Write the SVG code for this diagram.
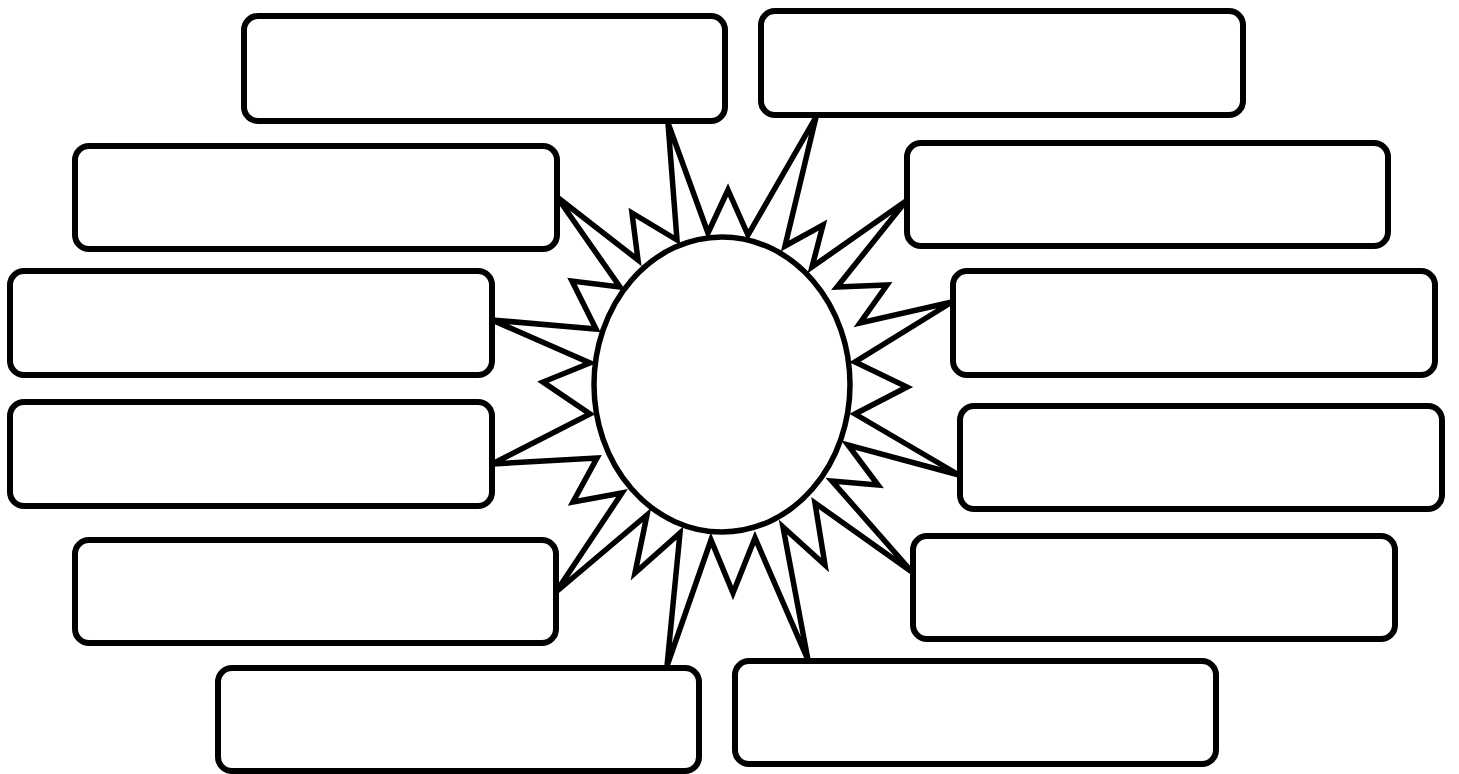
<svg xmlns="http://www.w3.org/2000/svg" width="1459" height="774" viewBox="0 0 1459 774">
<style>
.box{fill:#fff;stroke:#000;stroke-width:6}
.sun{fill:#fff;stroke:#000;stroke-width:5.5;stroke-linejoin:miter;stroke-miterlimit:6}
</style>
<rect width="1459" height="774" fill="#fff"/>
<g id="connectors">
<polygon class="sun" points="728,190 748,235 816,117 785,246 823,225 812,267 906,201 837,287 887,285 860,323 952,302 855,362 907,387 855,414 959,475 848,445 878,485 832,481 912,572 815,503 825,565 783,527 808,660 755,538 733,593 711,540 667,666 680,533 635,573 647,515 556,592 622,493 573,502 597,458 492,464 590,414 543,382 590,363 492,320 596,329 572,281 620,287 557,197 638,260 632,213 677,240 668,123 708,233"/>
</g>
<g id="sun"><ellipse class="sun" cx="722" cy="384.5" rx="128" ry="147.5"/></g>
<g id="box-tl"><rect class="box" x="244" y="16" width="481" height="105" rx="14"/></g>
<g id="box-tr"><rect class="box" x="761" y="11" width="482" height="104" rx="14"/></g>
<g id="box-l2"><rect class="box" x="75" y="146" width="482" height="103" rx="14"/></g>
<g id="box-r2"><rect class="box" x="907" y="143" width="481" height="103" rx="14"/></g>
<g id="box-l3"><rect class="box" x="10" y="271" width="482" height="104" rx="14"/></g>
<g id="box-r3"><rect class="box" x="953" y="271" width="482" height="104" rx="14"/></g>
<g id="box-l4"><rect class="box" x="10" y="402" width="482" height="104" rx="14"/></g>
<g id="box-r4"><rect class="box" x="960" y="406" width="482" height="103" rx="14"/></g>
<g id="box-l5"><rect class="box" x="75" y="540" width="481" height="103" rx="14"/></g>
<g id="box-r5"><rect class="box" x="913" y="536" width="482" height="103" rx="14"/></g>
<g id="box-bl"><rect class="box" x="218" y="668" width="481" height="103" rx="14"/></g>
<g id="box-br"><rect class="box" x="735" y="661" width="481" height="103" rx="14"/></g>
</svg>
